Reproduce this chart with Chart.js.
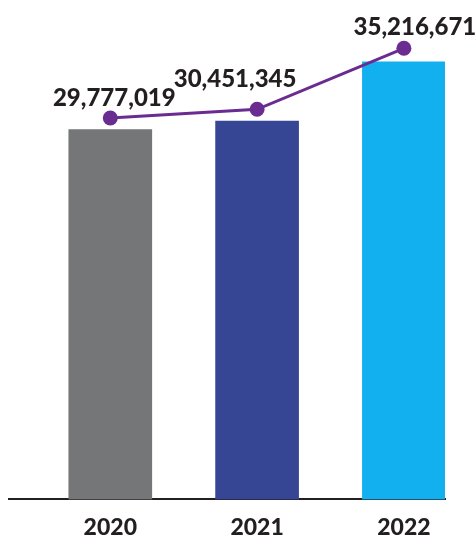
<!DOCTYPE html>
<html>
<head>
<meta charset="utf-8">
<script src="https://cdn.jsdelivr.net/npm/chart.js@4.4.1/dist/chart.umd.min.js"></script>
<style>
  html, body { margin: 0; padding: 0; background: #fff; }
  #wrap { width: 475px; height: 539px; position: relative; }
</style>
</head>
<body>
<div id="wrap"><canvas id="popChart"></canvas></div>
<script>
// yearly totals, shown as bars plus a trend line with value labels
const years  = ['2020', '2021', '2022'];
const totals = [29777019, 30451345, 35216671];

const barColors = ['#757677', '#374595', '#12b0ef'];
const purple = '#6a2c91';
const ink    = '#231f20';

// nudges so the value labels clear the line
const labelShift = [[4, -20], [-22, -30], [11, -21]];

const valueLabels = {
  id: 'valueLabels',
  afterDatasetsDraw(chart) {
    const meta = chart.getDatasetMeta(1);
    const ctx = chart.ctx;
    ctx.save();
    ctx.font = '900 24px Lato, "Open Sans", sans-serif';
    ctx.fillStyle = ink;
    ctx.textAlign = 'center';
    ctx.textBaseline = 'middle';
    meta.data.forEach((pt, i) => {
      const txt = totals[i].toLocaleString('en-US');
      ctx.fillText(txt, pt.x + labelShift[i][0], pt.y + labelShift[i][1]);
    });
    ctx.restore();
  },
};

new Chart(document.getElementById('popChart'), {
  data: {
    datasets: [
      {
        type: 'bar',
        data: totals.map((v, i) => ({ x: i, y: v })),
        backgroundColor: barColors,
        borderWidth: 0,
        barThickness: 83,
        yAxisID: 'y',
        order: 1,
      },
      {
        type: 'line',
        data: totals.map((v, i) => ({ x: i, y: v })),
        borderColor: purple,
        borderWidth: 3,
        pointRadius: 7.5,
        pointBackgroundColor: purple,
        pointBorderWidth: 0,
        tension: 0,
        yAxisID: 'y2',
        order: 0,
      },
    ],
  },
  options: {
    responsive: true,
    maintainAspectRatio: false,
    animation: false,
    layout: { padding: { left: 9, right: 30, top: 0, bottom: -16 } },
    plugins: { legend: { display: false }, tooltip: { enabled: false } },
    scales: {
      x: {
        type: 'linear',
        offset: false,
        min: -0.69,
        max: 2.28,
        grid: { display: false, drawTicks: false, offset: false },
        border: { display: true, color: ink, width: 2 },
        ticks: {
          stepSize: 1,
          includeBounds: false,
          autoSkip: false,
          maxRotation: 0,
          padding: 14,
          color: ink,
          font: { family: 'Lato', size: 23, weight: '900' },
          callback: v => years[v] ?? '',
        },
      },
      y:  { display: false, min: 0, max: 39600000 },
      y2: { display: false, min: 0, max: 38400000 },
    },
  },
  plugins: [valueLabels],
});
</script>
</body>
</html>
